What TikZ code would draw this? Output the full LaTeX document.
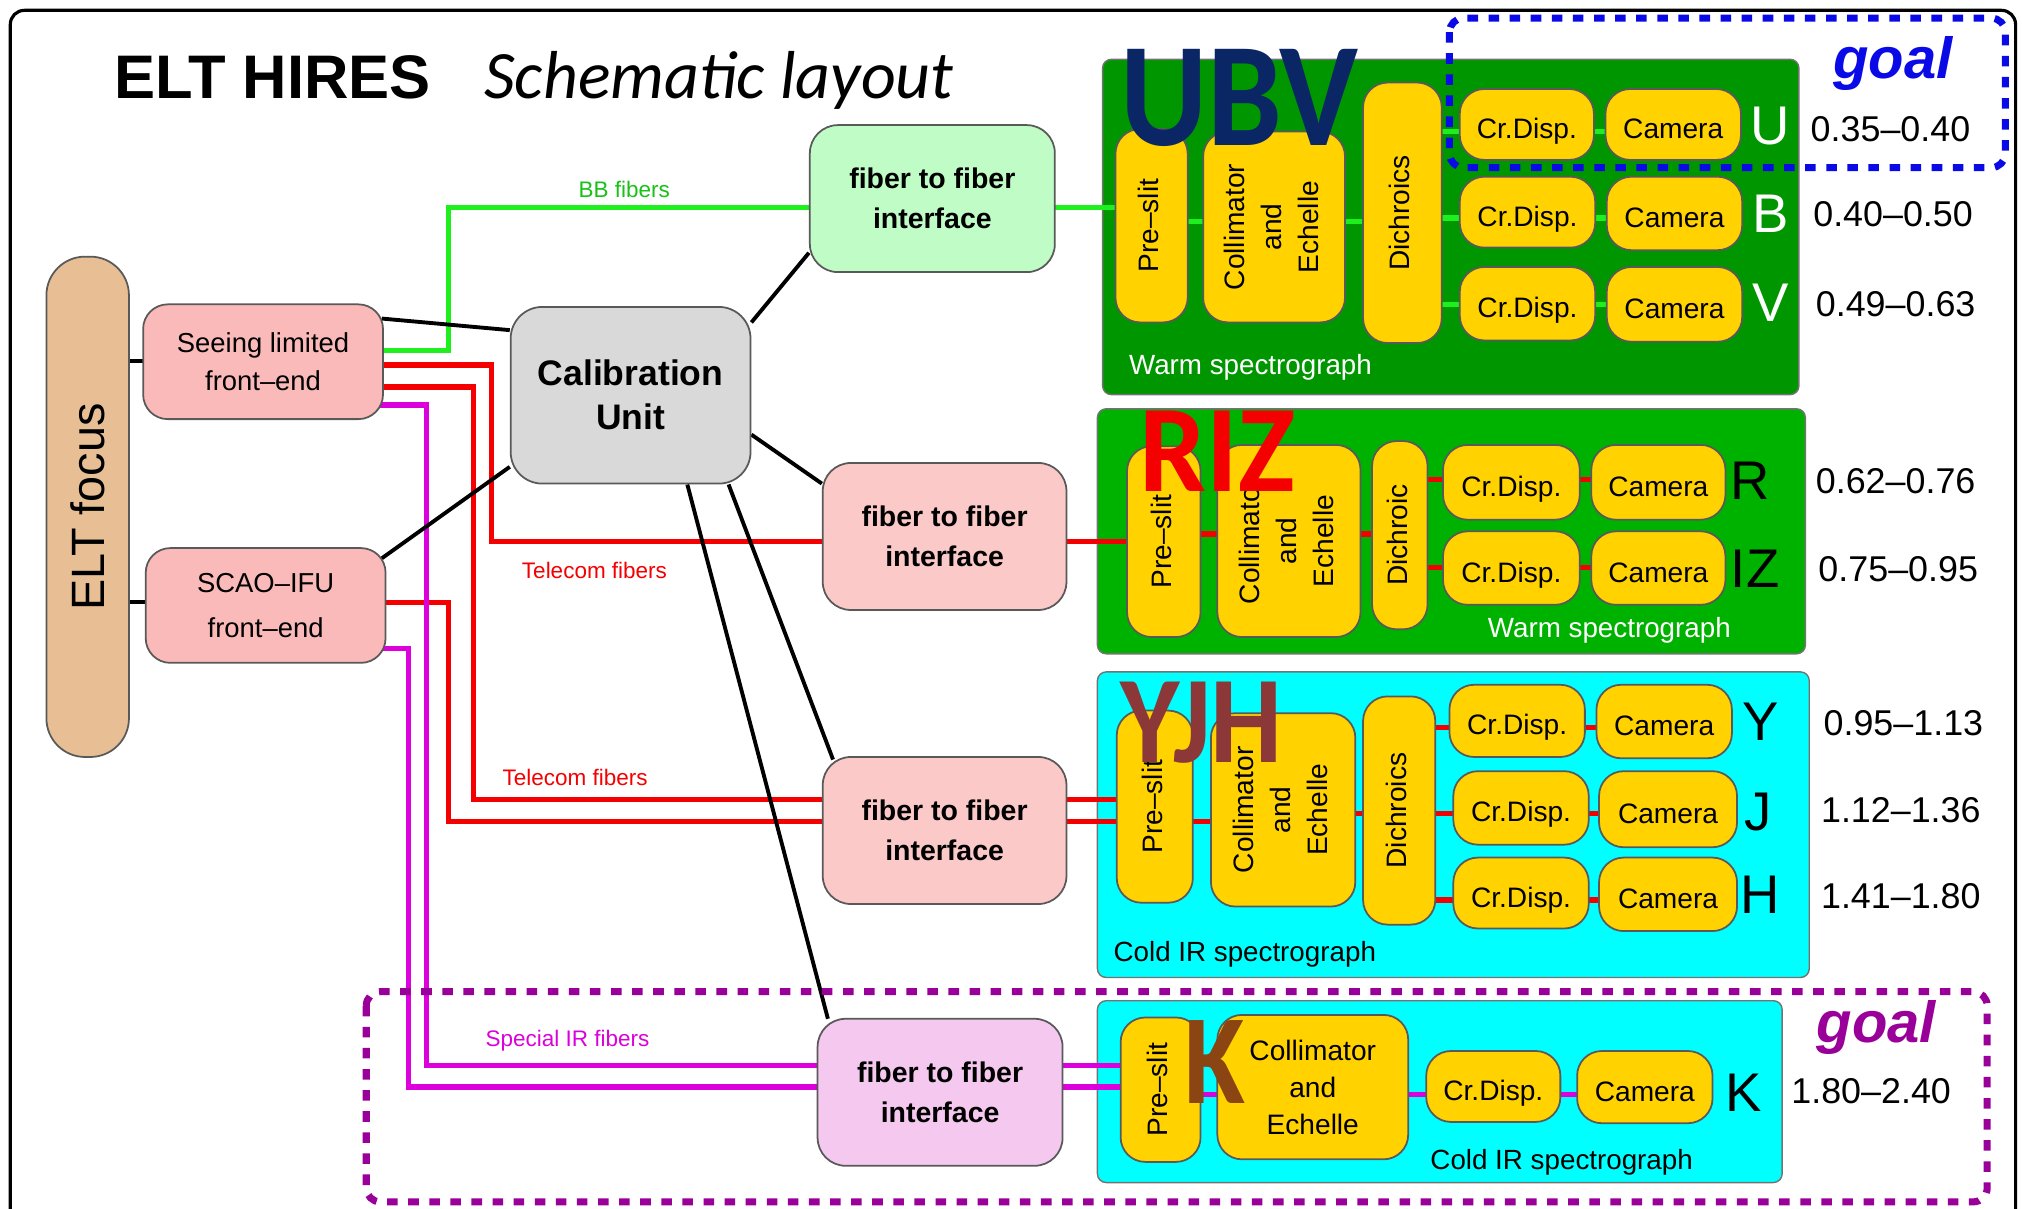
\documentclass[tikz,border=0pt]{standalone}
\usepackage{fontspec}
\setmainfont{Liberation Sans}
\newfontfamily\calfont{Carlito}
\usepackage{tikz}
\usepackage{graphicx}
\pgfdeclarelayer{back}
\pgfdeclarelayer{wires}
\pgfsetlayers{back,wires,main}
\definecolor{focusc}{RGB}{232,191,148}
\definecolor{feedc}{RGB}{251,186,186}
\definecolor{ftfpink}{RGB}{252,201,201}
\definecolor{ftfgreen}{RGB}{191,252,198}
\definecolor{ftflilac}{RGB}{245,201,239}
\definecolor{calgray}{RGB}{217,217,217}
\definecolor{warmdark}{RGB}{0,150,0}
\definecolor{warmlight}{RGB}{0,178,0}
\definecolor{coldc}{RGB}{0,255,255}
\definecolor{optc}{RGB}{255,210,0}
\definecolor{bbc}{RGB}{30,240,30}
\definecolor{telc}{RGB}{245,0,0}
\definecolor{irc}{RGB}{220,0,220}
\definecolor{goalblue}{RGB}{10,10,230}
\definecolor{goalpurple}{RGB}{153,0,153}
\definecolor{ubvc}{RGB}{10,38,100}
\definecolor{yjhc}{RGB}{140,56,56}
\definecolor{kc}{RGB}{139,69,19}
\tikzset{
  box/.style={draw=black!65,line width=.5pt,rounded corners=7pt,inner sep=0pt,align=center},
  opt/.style={box,fill=optc,font=\fontsize{8}{10.5}\selectfont},
  cam/.style={opt,text height=8pt,text depth=0pt},
  feed/.style={box,fill=feedc,font=\fontsize{7.8}{11}\selectfont},
  ftf/.style={box,rounded corners=8pt,font=\bfseries\fontsize{8.1}{11.4}\selectfont},
  spec/.style={draw=black!55,line width=.4pt,rounded corners=2.5pt,inner sep=0pt},
  stext/.style={inner sep=0pt,font=\fontsize{7.9}{7.9}\selectfont},
  blk/.style={line width=1.1pt},
  fib/.style={line width=1.5pt},
  goalbox/.style={line width=2pt,dash pattern=on 3pt off 3pt,rounded corners=4pt},
  goaltext/.style={inner sep=0pt,font=\bfseries\itshape\fontsize{16.5}{16.5}\selectfont},
  big/.style={inner sep=0pt,anchor=base west,font=\calfont\bfseries\fontsize{35.3}{35.3}\selectfont},
  band/.style={inner sep=0pt,font=\fontsize{15.5}{15.5}\selectfont},
  wrange/.style={inner sep=0pt,font=\fontsize{10.2}{10.2}\selectfont},
  flab/.style={inner sep=0pt,font=\fontsize{6.4}{6.4}\selectfont}
}
% box from corner (x1,y1) to (x2,y2)
\newcommand{\bx}[7]{%
  \node[#1,minimum width={(#5-#3)*0.012895cm},minimum height={(#6-#4)*0.012895cm}]
    (#2) at ({(#3+#5)/2},{(#4+#6)/2}) {#7};}
\newcommand{\vtxt}[1]{\rotatebox{90}{\begin{tabular}{@{}c@{}}#1\end{tabular}}}

\begin{document}
\begin{tikzpicture}[x=0.012895cm,y=-0.012895cm]
  \useasboundingbox (0,0) rectangle (1568,937);
  \draw[line width=.9pt,rounded corners=4pt] (8,8) rectangle (1563,990);

  % title
  \node[anchor=base west,inner sep=0pt,font=\bfseries\fontsize{17.5}{17.5}\selectfont] (title) at (88,76) {ELT HIRES};
  \node[anchor=base west,inner sep=0pt,font=\calfont\itshape\fontsize{19.3}{19.3}\selectfont] (subtitle) at (375,76) {Schematic layout};

  % spectrograph frames
  \begin{pgfonlayer}{back}
    \bx{spec,fill=warmdark}{ubv}{855}{46}{1395}{306}{}
    \bx{spec,fill=warmlight}{riz}{851}{317}{1400}{507}{}
    \bx{spec,fill=coldc}{yjh}{851}{521}{1403}{758}{}
    \bx{spec,fill=coldc}{kspec}{851}{776}{1382}{917}{}
  \end{pgfonlayer}
  \node[stext,white,anchor=west] (ubvname) at (875,285) {Warm spectrograph};
  \node[stext,white] (rizname) at (1248,489) {Warm spectrograph};
  \node[stext,anchor=west] (yjhname) at (863,740) {Cold IR spectrograph};
  \node[stext] (kname) at (1211,901) {Cold IR spectrograph};

  % front end
  \bx{box,fill=focusc,rounded corners=11pt}{focus}{36}{199}{100}{587}{\rotatebox{90}{\fontsize{13.3}{13.3}\selectfont ELT focus}}
  \bx{feed}{seeing}{111}{236}{297}{325}{Seeing limited\\front--end}
  \bx{feed}{scao}{113}{425}{299}{514}{SCAO--IFU\\[2pt]front--end}
  \bx{box,fill=calgray,rounded corners=9pt,font=\bfseries\fontsize{10.1}{12.5}\selectfont}{calib}{396}{238}{582}{375}{Calibration\\Unit}
  \bx{ftf,fill=ftfgreen}{ftfa}{628}{97}{818}{211}{fiber to fiber\\interface}
  \bx{ftf,fill=ftfpink}{ftfb}{638}{359}{827}{473}{fiber to fiber\\interface}
  \bx{ftf,fill=ftfpink}{ftfc}{638}{587}{827}{701}{fiber to fiber\\interface}
  \bx{ftf,fill=ftflilac}{ftfd}{634}{790}{824}{904}{fiber to fiber\\interface}

  % UBV
  \bx{opt}{ubvps}{865}{100}{921}{250}{\vtxt{Pre--slit}}
  \bx{opt}{ubvce}{933}{102}{1043}{250}{\vtxt{Collimator\\and\\Echelle}}
  \bx{opt}{ubvdi}{1057}{64}{1118}{266}{\vtxt{Dichroics}}
  \bx{cam}{ubvcdu}{1132}{69}{1236}{124}{Cr.Disp.}
  \bx{cam}{ubvcau}{1245}{69}{1350}{124}{Camera}
  \bx{cam}{ubvcdb}{1132}{137}{1237}{192}{Cr.Disp.}
  \bx{cam}{ubvcab}{1246}{137}{1351}{194}{Camera}
  \bx{cam}{ubvcdv}{1132}{207}{1237}{264}{Cr.Disp.}
  \bx{cam}{ubvcav}{1246}{207}{1351}{265}{Camera}

  % RIZ
  \bx{opt}{rizps}{874}{346}{931}{494}{\vtxt{Pre--slit}}
  \bx{opt}{rizce}{944}{345}{1055}{494}{\vtxt{Collimator\\and\\Echelle}}
  \bx{opt}{rizdi}{1064}{342}{1107}{488}{\vtxt{Dichroic}}
  \bx{cam}{rizcdr}{1119}{345}{1225}{403}{Cr.Disp.}
  \bx{cam}{rizcar}{1234}{345}{1338}{403}{Camera}
  \bx{cam}{rizcdi}{1119}{412}{1225}{469}{Cr.Disp.}
  \bx{cam}{rizcai}{1234}{412}{1338}{469}{Camera}

  % YJH
  \bx{opt}{yjhps}{866}{551}{925}{700}{\vtxt{Pre--slit}}
  \bx{opt}{yjhce}{939}{553}{1051}{703}{\vtxt{Collimator\\and\\Echelle}}
  \bx{opt}{yjhdi}{1057}{540}{1113}{717}{\vtxt{Dichroics}}
  \bx{cam}{yjhcdy}{1124}{531}{1229}{587}{Cr.Disp.}
  \bx{cam}{yjhcay}{1238}{531}{1343}{588}{Camera}
  \bx{cam}{yjhcdj}{1127}{598}{1232}{655}{Cr.Disp.}
  \bx{cam}{yjhcaj}{1240}{598}{1347}{657}{Camera}
  \bx{cam}{yjhcdh}{1127}{665}{1232}{720}{Cr.Disp.}
  \bx{cam}{yjhcah}{1240}{665}{1347}{722}{Camera}

  % K
  \bx{opt}{kps}{869}{789}{931}{901}{\vtxt{Pre--slit}}
  \bx{opt}{kce}{944}{787}{1092}{899}{Collimator\\and\\Echelle}
  \bx{cam}{kcd}{1106}{815}{1210}{870}{Cr.Disp.}
  \bx{cam}{kca}{1223}{815}{1328}{871}{Camera}

  % bands
  \node[band,white] (bu) at (1373,98) {U};
  \node[band,white] (bb) at (1373,166) {B};
  \node[band,white] (bv) at (1373,235) {V};
  \node[band] (br) at (1357,373) {R};
  \node[band] (biz) at (1361,441) {IZ};
  \node[band] (by) at (1365,560) {Y};
  \node[band] (bj) at (1363,630) {J};
  \node[band] (bh) at (1365,694) {H};
  \node[band] (bk) at (1352,847) {K};
  \node[wrange] (ru) at (1466,100) {0.35--0.40};
  \node[wrange] (rb) at (1468,166) {0.40--0.50};
  \node[wrange] (rv) at (1470,236) {0.49--0.63};
  \node[wrange] (rr) at (1470,373) {0.62--0.76};
  \node[wrange] (ri) at (1472,441) {0.75--0.95};
  \node[wrange] (ry) at (1476,561) {0.95--1.13};
  \node[wrange] (rj) at (1474,628) {1.12--1.36};
  \node[wrange] (rh) at (1474,695) {1.41--1.80};
  \node[wrange] (rk) at (1451,846) {1.80--2.40};

  % fibers and links
  \begin{pgfonlayer}{wires}
    \draw[fib,bbc] (seeing.center |- 0,272) -| (348,161) -- (ftfa.center |- 0,161);
    \draw[fib,bbc] (ftfa.center |- 0,161) -- (ubvps.center |- 0,161);
    \draw[fib,telc] (seeing.center |- 0,283) -| (381,420) -- (ftfb.center |- 0,420);
    \draw[fib,telc] (ftfb.center |- 0,420) -- (rizps.center |- 0,420);
    \draw[fib,telc] (seeing.center |- 0,300) -| (367,620) -- (ftfc.center |- 0,620);
    \draw[fib,telc] (scao.center |- 0,467) -| (348,637) -- (ftfc.center |- 0,637);
    \draw[fib,telc] (ftfc.center |- 0,620) -- (yjhps.center |- 0,620);
    \draw[fib,telc] (ftfc.center |- 0,637) -- (yjhps.center |- 0,637);
    \draw[fib,irc] (seeing.center |- 0,314) -| (331,826) -- (ftfd.center |- 0,826);
    \draw[fib,irc] (scao.center |- 0,503) -| (317,843) -- (ftfd.center |- 0,843);
    \draw[fib,irc] (ftfd.center |- 0,826) -- (kps.center |- 0,826);
    \draw[fib,irc] (ftfd.center |- 0,843) -- (kps.center |- 0,843);

    \draw[blk] (focus.center |- 0,280) -- (seeing.center |- 0,280);
    \draw[blk] (focus.center |- 0,467) -- (scao.center |- 0,467);
    \draw[blk] (296,247) -- (calib.west |- 0,256);
    \draw[blk] (296,433) -- (calib.west |- 0,362);
    \draw[blk] (calib.east |- 0,250) -- (ftfa.west |- 0,196);
    \draw[blk] (calib.east |- 0,337) -- (ftfb.west |- 0,375);
    \draw[blk] (calib.south -| 565,0) -- (646,589);
    \draw[blk] (calib.south -| 533,0) -- (642,790);

    % inside the spectrographs
    \draw[fib,bbc] (ubvps.center |- 0,172) -- (ubvce.center |- 0,172) -- (ubvdi.center |- 0,172);
    \foreach \a/\b/\y in {cdu/cau/102,cdb/cab/169,cdv/cav/236}
      \draw[fib,bbc] (ubvdi.center |- 0,\y) -- (ubv\a.center |- 0,\y) -- (ubv\b.center |- 0,\y);
    \draw[fib,telc] (rizps.center |- 0,414) -- (rizce.center |- 0,414) -- (rizdi.center |- 0,414);
    \foreach \a/\b/\y in {cdr/car/372,cdi/cai/440}
      \draw[fib,telc] (rizdi.center |- 0,\y) -- (riz\a.center |- 0,\y) -- (riz\b.center |- 0,\y);
    \draw[fib,telc] (yjhps.center |- 0,637) -- (yjhce.center |- 0,637);
    \draw[fib,telc] (yjhce.center |- 0,631) -- (yjhdi.center |- 0,631);
    \foreach \a/\b/\y in {cdy/cay/564,cdj/caj/631,cdh/cah/698}
      \draw[fib,telc] (yjhdi.center |- 0,\y) -- (yjh\a.center |- 0,\y) -- (yjh\b.center |- 0,\y);
    \draw[fib,irc] (kps.center |- 0,849) -- (kce.center |- 0,849) -- (kcd.center |- 0,849) -- (kca.center |- 0,849);
  \end{pgfonlayer}

  \node[flab,bbc!80!black] (bbl) at (484,147) {BB fibers};
  \node[flab,telc] (tla) at (461,442) {Telecom fibers};
  \node[flab,telc] (tlb) at (446,603) {Telecom fibers};
  \node[flab,irc] (irl) at (440,807) {Special IR fibers};

  % arm names
  \node[big,ubvc,font=\calfont\bfseries\fontsize{42.2}{42.2}\selectfont] (ubvtag) at (868,113) {\scalebox{.9}[1]{UBV}};
  \node[big,telc] (riztag) at (883,381) {\scalebox{.96}[1]{RIZ}};
  \node[big,yjhc] (yjhtag) at (868,591) {\scalebox{.92}[1]{YJH}};
  \node[big,kc,font=\calfont\bfseries\fontsize{36.4}{36.4}\selectfont] (ktag) at (918,856) {\scalebox{.87}[1]{K}};

  % goals
  \draw[goalbox,goalblue] (1124,14) rectangle (1555,130);
  \draw[goalbox,goalpurple] (284,769) rectangle (1541,932);
  \node[goaltext,goalblue] (goala) at (1468,49) {goal};
  \node[goaltext,goalpurple] (goalb) at (1455,797) {goal};
\end{tikzpicture}
\end{document}
